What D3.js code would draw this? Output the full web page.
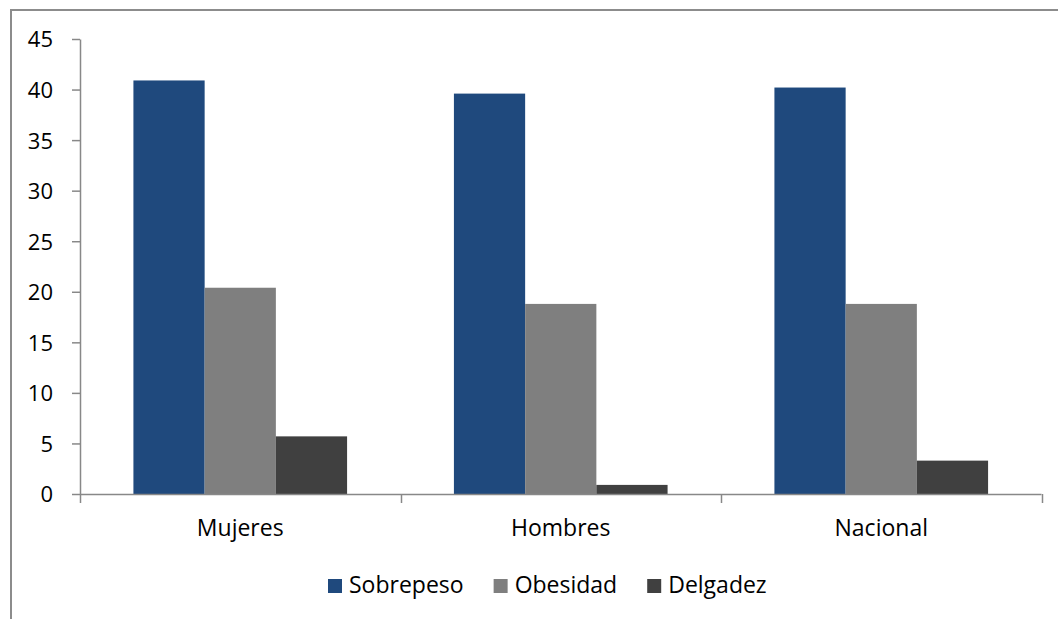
<!DOCTYPE html>
<html>
<head>
<meta charset="utf-8">
<script src="https://cdn.jsdelivr.net/npm/d3@7"></script>
<style>
  html, body { margin: 0; padding: 0; background: #fff; }
  svg { display: block; }
  text { font-family: "Open Sans", "Noto Sans", sans-serif; fill: #000; }
</style>
</head>
<body>
<svg id="chart" width="1058" height="619"></svg>
<script>
// Data
const categories = ["Mujeres", "Hombres", "Nacional"];
const seriesNames = ["Sobrepeso", "Obesidad", "Delgadez"];
const sobrepeso = [40.9, 39.6, 40.2];
const obesidad = [20.4, 18.8, 18.8];
const delgadez = [5.7, 0.9, 3.3];
const yTicks = [0, 5, 10, 15, 20, 25, 30, 35, 40, 45];

const seriesValues = [sobrepeso, obesidad, delgadez];
const colors = ["#1F497D", "#7F7F7F", "#404040"];
const axisColor = "#888888";
const tickFont = 22;
const labelFont = 23;

const svg = d3.select("#chart");

// Outer frame
svg.append("rect")
  .attr("x", 11).attr("y", 10)
  .attr("width", 1100).attr("height", 700)
  .attr("fill", "none")
  .attr("stroke", "#8c8c8c")
  .attr("stroke-width", 2);

const plotLeft = 80, plotRight = 1041.5, plotTop = 39, plotBottom = 494;

const x = d3.scaleBand().domain(categories).range([plotLeft, plotRight]).padding(0);
const xs = d3.scaleBand().domain(seriesNames).range([0, x.bandwidth()])
  .paddingInner(0).paddingOuter(0.75);
const y = d3.scaleLinear().domain([0, 45]).range([plotBottom, plotTop]);

// Bars
const rows = categories.map((c, i) => ({
  cat: c,
  vals: seriesNames.map((s, j) => ({ s, v: seriesValues[j][i], color: colors[j] }))
}));

const g = svg.append("g");
g.selectAll("g.cat").data(rows).join("g")
  .attr("class", "cat")
  .attr("transform", d => `translate(${x(d.cat)},0)`)
  .selectAll("rect").data(d => d.vals).join("rect")
  .attr("x", d => xs(d.s))
  .attr("width", xs.bandwidth())
  .attr("y", d => y(d.v))
  .attr("height", d => y(0) - y(d.v))
  .attr("fill", d => d.color);

// Y axis
const yAxis = svg.append("g")
  .attr("transform", `translate(${plotLeft},0)`)
  .call(d3.axisLeft(y).tickValues(yTicks).tickSize(8).tickSizeOuter(0).tickPadding(19));
yAxis.select(".domain").attr("stroke", axisColor).attr("stroke-width", 1.5);
yAxis.selectAll(".tick line").attr("stroke", axisColor).attr("stroke-width", 1.5);
yAxis.selectAll(".tick text")
  .attr("font-size", tickFont)
  .attr("font-family", "'Open Sans', sans-serif")
  .attr("fill", "#000")
  .attr("dy", "0.36em");

// X axis: baseline, boundary ticks and centred labels
const xAxis = svg.append("g");
xAxis.append("line")
  .attr("x1", plotLeft).attr("x2", plotRight)
  .attr("y1", plotBottom + 0.5).attr("y2", plotBottom + 0.5)
  .attr("stroke", axisColor).attr("stroke-width", 1.5);
const bounds = categories.map(c => x(c)).concat([x.range()[1]]);
xAxis.selectAll("line.tick").data(bounds).join("line")
  .attr("class", "tick")
  .attr("x1", d => Math.round(d) + 0.5).attr("x2", d => Math.round(d) + 0.5)
  .attr("y1", plotBottom).attr("y2", plotBottom + 9)
  .attr("stroke", axisColor).attr("stroke-width", 1.5);
xAxis.selectAll("text").data(categories).join("text")
  .attr("x", d => x(d) + x.bandwidth() / 2)
  .attr("y", 536)
  .attr("text-anchor", "middle")
  .attr("font-size", labelFont)
  .text(d => d);

// Legend
const legend = svg.append("g");
let lx = 328;
seriesNames.forEach((s, j) => {
  legend.append("rect")
    .attr("x", lx).attr("y", 579)
    .attr("width", 14).attr("height", 14)
    .attr("fill", colors[j]);
  const t = legend.append("text")
    .attr("x", lx + 21).attr("y", 593)
    .attr("font-size", labelFont)
    .text(s);
  lx += 21 + t.node().getComputedTextLength() + 30;
});
</script>
</body>
</html>
